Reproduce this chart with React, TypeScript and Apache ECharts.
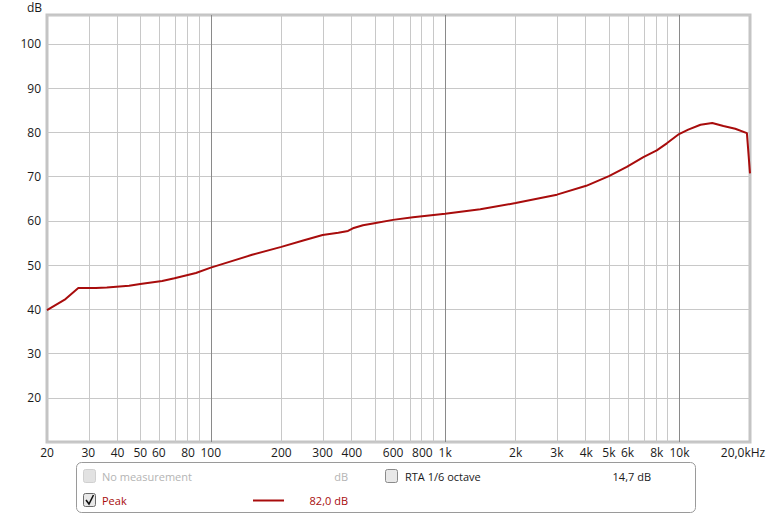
import React, { useEffect, useRef } from "react";
import * as echarts from "echarts";

// Frequency response (Hz) and level (dB)
const freqs = [20, 24, 27.2, 32.3, 36, 44.8, 50, 62, 70, 86.4, 100, 120, 150, 200, 250, 300, 350, 385, 404, 446, 492, 599, 729, 1000, 1413, 2000, 3000, 4000, 5000, 5960, 7015, 8000, 8833, 9960, 10900, 12300, 13800, 15400, 17300, 19400, 20000];
const levels = [39.8, 42.3, 44.8, 44.8, 44.9, 45.3, 45.7, 46.4, 47.0, 48.2, 49.4, 50.7, 52.3, 54.1, 55.6, 56.8, 57.3, 57.7, 58.3, 59.0, 59.4, 60.2, 60.8, 61.6, 62.6, 64.0, 65.9, 67.9, 70.1, 72.2, 74.4, 75.9, 77.5, 79.6, 80.6, 81.7, 82.1, 81.4, 80.8, 79.8, 70.7];

// X tick labels
const xTickFreqs = [20, 30, 40, 50, 60, 80, 100, 200, 300, 400, 600, 800, 1000, 2000, 3000, 4000, 5000, 6000, 8000, 10000, 20000];
const xTickLabels = ["20", "30", "40", "50", "60", "80", "100", "200", "300", "400", "600", "800", "1k", "2k", "3k", "4k", "5k", "6k", "8k", "10k", "20,0kHz"];

// Vertical grid lines
const minorGridFreqs = [30, 40, 50, 60, 70, 80, 90, 200, 300, 400, 500, 600, 700, 800, 900, 2000, 3000, 4000, 5000, 6000, 7000, 8000, 9000];
const majorGridFreqs = [100, 1000, 10000];

// Y axis
const yTickLabels = [20, 30, 40, 50, 60, 70, 80, 90, 100];

const RED = "#a80c0c";
const FONT = "'Open Sans', 'Noto Sans', sans-serif";
const LFONT = "11px " + FONT;

export default function App() {
  const ref = useRef<HTMLDivElement>(null);
  useEffect(() => {
    if (!ref.current) return;
    const chart = echarts.init(ref.current, null, { renderer: "svg" });
    const lg = Math.log10;
    const option: any = {
      animation: false,
      backgroundColor: "#ffffff",
      textStyle: { fontFamily: FONT },
      grid: {
        left: 47,
        top: 15,
        width: 703,
        height: 427,
        show: true,
        borderColor: "#c4c4c4",
        borderWidth: 3,
        backgroundColor: "#ffffff",
        z: 0,
      },
      xAxis: {
        type: "value",
        min: lg(20),
        max: lg(20000),
        axisLine: { show: false },
        axisTick: { show: false },
        splitLine: { show: false },
        axisLabel: {
          customValues: xTickFreqs.map((f) => lg(f)),
          margin: 4,
          color: "#1a1a1a",
          fontSize: 12,
          fontFamily: FONT,
          formatter: (v: number) => {
            let best = 0;
            let bd = 1e9;
            xTickFreqs.forEach((f, i) => {
              const d = Math.abs(lg(f) - v);
              if (d < bd) { bd = d; best = i; }
            });
            const t = xTickLabels[best];
            return best === xTickLabels.length - 1 ? "{r|" + t + "}" : t;
          },
          rich: { r: { padding: [0, 14, 0, 0], fontSize: 12, color: "#1a1a1a", fontFamily: FONT } },
        },
      },
      yAxis: {
        type: "value",
        min: 10,
        max: 106.5,
        interval: 10,
        axisLine: { show: false },
        axisTick: { show: false },
        splitLine: { show: true, lineStyle: { color: "#c8c8c8", width: 1 } },
        axisLabel: {
          margin: 6,
          color: "#1a1a1a",
          fontSize: 12,
          fontFamily: FONT,
          formatter: (v: number) => (yTickLabels.indexOf(Math.round(v)) >= 0 && Math.abs(v - Math.round(v)) < 1e-6 ? String(Math.round(v)) : ""),
        },
      },
      series: [
        {
          type: "line",
          data: [],
          silent: true,
          z: 1,
          markLine: {
            silent: true,
            symbol: ["none", "none"],
            label: { show: false },
            animation: false,
            data: [
              ...minorGridFreqs.map((f) => ({ xAxis: lg(f), lineStyle: { color: "#c8c8c8", width: 1, type: "solid" } })),
              ...majorGridFreqs.map((f) => ({ xAxis: lg(f), lineStyle: { color: "#8a8a8a", width: 1, type: "solid" } })),
            ],
          },
        },
        {
          type: "line",
          name: "Peak",
          z: 5,
          showSymbol: false,
          symbol: "none",
          smooth: false,
          lineStyle: { color: RED, width: 2 },
          data: freqs.map((f, i) => [lg(f), levels[i]]),
        },
      ],
      graphic: [
        { type: "text", x: 27, y: 1, style: { text: "dB", font: "12px " + FONT, fill: "#1a1a1a", verticalAlign: "top" } },
        {
          type: "rect",
          shape: { x: 76.5, y: 462.5, width: 619, height: 50, r: 5 },
          style: { fill: "#ffffff", stroke: "#9a9a9a", lineWidth: 1 },
        },
        // checkbox 1 (disabled)
        { type: "rect", shape: { x: 83.5, y: 469.5, width: 12, height: 13, r: 2 }, style: { fill: "#e2e2e2", stroke: "#d0d0d0", lineWidth: 1 } },
        { type: "text", x: 102, y: 476, style: { text: "No measurement", font: LFONT, fill: "#b4b4b4", verticalAlign: "middle" } },
        { type: "text", x: 348, y: 476, style: { text: "dB", font: LFONT, fill: "#b4b4b4", align: "right", verticalAlign: "middle" } },
        // checkbox 3
        { type: "rect", shape: { x: 385.5, y: 469.5, width: 12, height: 13, r: 2 }, style: { fill: "#e8e8e8", stroke: "#8a8a8a", lineWidth: 1 } },
        { type: "text", x: 405, y: 476, style: { text: "RTA 1/6 octave", font: LFONT, fill: "#1a1a1a", verticalAlign: "middle" } },
        { type: "text", x: 651, y: 476, style: { text: "14,7 dB", font: LFONT, fill: "#1a1a1a", align: "right", verticalAlign: "middle" } },
        // checkbox 2 (checked)
        { type: "rect", shape: { x: 83.5, y: 493.5, width: 12, height: 13, r: 2 }, style: { fill: "#e8e8e8", stroke: "#6a6a6a", lineWidth: 1 } },
        { type: "polyline", shape: { points: [[86, 500], [89, 504], [93.5, 495]] }, style: { stroke: "#111111", lineWidth: 1.6, fill: null } },
        { type: "text", x: 102, y: 500, style: { text: "Peak", font: LFONT, fill: RED, verticalAlign: "middle" } },
        { type: "line", shape: { x1: 253, y1: 500.5, x2: 284, y2: 500.5 }, style: { stroke: RED, lineWidth: 2 } },
        { type: "text", x: 348, y: 500, style: { text: "82,0 dB", font: LFONT, fill: RED, align: "right", verticalAlign: "middle" } },
      ],
    };
    chart.setOption(option);
    return () => chart.dispose();
  }, []);
  return <div ref={ref} style={{ width: 772, height: 515, position: "absolute", left: 0, top: 0 }} />;
}
